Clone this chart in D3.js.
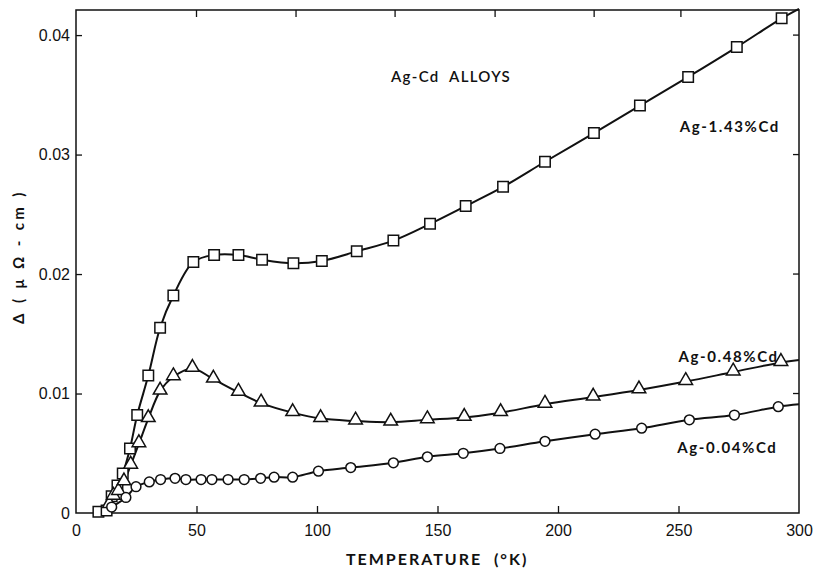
<!DOCTYPE html>
<html>
<head>
<meta charset="utf-8">
<script src="https://cdn.jsdelivr.net/npm/d3@7"></script>
<style>
  body { margin: 0; background: #fff; }
  svg { display: block; font-family: "Lato", "Open Sans", sans-serif; }
</style>
</head>
<body>
<div class="container"></div>
<script>
// temperatures (K) and resistivity deviations (micro-ohm cm)
let tSquare = [9.3, 12.7, 14.8, 17.2, 19.4, 22.4, 25.4, 30, 34.9, 40.4, 48.7, 57.3, 67.4, 77.2, 90.2,
    102, 116.5, 131.7, 146.9, 161.7, 177.2, 194.6, 214.9, 234, 254, 274.2, 292.8];
let dSquare = [0.0001, 0.0002, 0.0014, 0.0023, 0.0033, 0.0054, 0.0082, 0.0115, 0.0155, 0.0182, 0.0210, 0.0216, 0.0216, 0.0212, 0.0209,
    0.0211, 0.0219, 0.0228, 0.0242, 0.0257, 0.0273, 0.0294, 0.0318, 0.0341, 0.0365, 0.0390, 0.0414];

let tTriangle = [13.8, 15.5, 17.6, 19.9, 22.7, 26.1, 30, 34.9, 40.4, 48.3, 57, 67.4, 76.8, 89.9,
    101.5, 116, 130.6, 145.8, 161.1, 176.2, 194.6, 214.6, 233.6, 253, 272.7, 292.5];
let dTriangle = [0.0007, 0.0014, 0.0018, 0.0026, 0.0040, 0.0058, 0.0079, 0.0102, 0.0114, 0.0121, 0.0112, 0.0101, 0.0092, 0.0084,
    0.0079, 0.0077, 0.0076, 0.0078, 0.0080, 0.0084, 0.0091, 0.0097, 0.0103, 0.0110, 0.0118, 0.0126];

let tCircle = [14.8, 20.7, 24.9, 30.4, 35.1, 41.1, 45.6, 51.9, 56.4, 63.1, 69.8, 76.6, 82.2, 89.9,
    100.6, 114, 131.7, 145.8, 160.7, 175.9, 194.6, 215.4, 234.7, 254.5, 273.2, 291.4];
let dCircle = [0.0005, 0.0013, 0.0022, 0.0026, 0.0028, 0.0029, 0.0028, 0.0028, 0.0028, 0.0028, 0.0028, 0.0029, 0.0030, 0.0030,
    0.0035, 0.0038, 0.0042, 0.0047, 0.0050, 0.0054, 0.0060, 0.0066, 0.0071, 0.0078, 0.0082, 0.0089];

// where each drawn curve meets the right frame (T = 300)
let curveEnds = [0.0422, 0.0128, 0.0091];

let seriesNames = ["Ag-1.43%Cd", "Ag-0.48%Cd", "Ag-0.04%Cd"];
let xTicks = [0, 50, 100, 150, 200, 250, 300];
let yTicks = [0, 0.01, 0.02, 0.03, 0.04];
let yTickLabels = ["0", "0.01", "0.02", "0.03", "0.04"];
let topTicks = [50, 91.3, 132.4, 173.9, 215, 251];

let margin = { top: 10, right: 14, bottom: 58, left: 76 };
let width = 813 - margin.left - margin.right;
let height = 571 - margin.top - margin.bottom;

let svg = d3.select(".container")
    .append("svg")
    .attr("width", 813)
    .attr("height", 571)
    .append("g")
    .attr("transform", "translate(" + margin.left + "," + margin.top + ")");

let x = d3.scaleLinear().domain([0, 300]).range([0, width]);
let y = d3.scaleLinear().domain([0, 0.0421]).range([height, 0]);

// frame
svg.append("rect")
    .attr("width", width)
    .attr("height", height)
    .attr("fill", "none")
    .attr("stroke", "#111")
    .attr("stroke-width", 1.5);

// bottom axis, ticks pointing in
let xAxis = svg.append("g")
    .attr("transform", "translate(0," + height + ")")
    .call(d3.axisBottom(x).tickValues(xTicks).tickSizeInner(-7).tickSizeOuter(0).tickPadding(12));
xAxis.select(".domain").remove();
xAxis.selectAll(".tick line").attr("stroke", "#111").attr("stroke-width", 1.3);
xAxis.selectAll(".tick text").attr("font-size", 16).attr("fill", "#111");
xAxis.selectAll(".tick").filter(d => d == 0 || d == 300).select("line").remove();

// left axis
let yAxis = svg.append("g")
    .call(d3.axisLeft(y).tickValues(yTicks).tickFormat((d, i) => yTickLabels[i])
        .tickSizeInner(-6).tickSizeOuter(0).tickPadding(6));
yAxis.select(".domain").remove();
yAxis.selectAll(".tick line").attr("stroke", "#111").attr("stroke-width", 1.3);
yAxis.selectAll(".tick text").attr("font-size", 16).attr("fill", "#111");
yAxis.selectAll(".tick").filter(d => d == 0).select("line").remove();

// right axis ticks
svg.append("g")
    .selectAll("line")
    .data(yTicks.slice(1))
    .enter()
    .append("line")
    .attr("x1", width - 6)
    .attr("x2", width)
    .attr("y1", d => y(d))
    .attr("y2", d => y(d))
    .attr("stroke", "#111")
    .attr("stroke-width", 1.3);

// top axis ticks
svg.append("g")
    .selectAll("line")
    .data(topTicks)
    .enter()
    .append("line")
    .attr("x1", d => x(d))
    .attr("x2", d => x(d))
    .attr("y1", 0)
    .attr("y2", 7)
    .attr("stroke", "#111")
    .attr("stroke-width", 1.3);

let series = [
    { t: tSquare, d: dSquare, shape: "square" },
    { t: tTriangle, d: dTriangle, shape: "triangle" },
    { t: tCircle, d: dCircle, shape: "circle" }
];

let line = d3.line()
    .x(p => x(p[0]))
    .y(p => y(p[1]))
    .curve(d3.curveCatmullRom.alpha(0.5));

series.forEach((s, i) => {
    let pts = s.t.map((t, j) => [t, s.d[j]]);
    s.pts = pts;
    svg.append("path")
        .datum(pts.concat([[300, curveEnds[i]]]))
        .attr("d", line)
        .attr("fill", "none")
        .attr("stroke", "#111")
        .attr("stroke-width", 2);
});

let sym = {
    square: d3.symbol().type(d3.symbolSquare).size(110),
    triangle: d3.symbol().type(d3.symbolTriangle).size(80),
    circle: d3.symbol().type(d3.symbolCircle).size(75)
};

series.forEach(s => {
    svg.append("g")
        .selectAll("path")
        .data(s.pts)
        .enter()
        .append("path")
        .attr("d", sym[s.shape])
        .attr("transform", p => "translate(" + x(p[0]) + "," + (y(p[1]) + (s.shape == "triangle" ? -1 : 0)) + ")")
        .attr("fill", "#fff")
        .attr("stroke", "#111")
        .attr("stroke-width", 1.5);
});

// annotations
svg.append("text")
    .attr("x", x(130.7))
    .attr("y", 72)
    .attr("font-size", 15)
    .attr("font-weight", 600)
    .attr("letter-spacing", 1.3)
    .attr("fill", "#111")
    .attr("xml:space", "preserve")
    .text("Ag-Cd  ALLOYS");

let labelPos = [[250.5, 122], [250, 352], [249.5, 443]];
seriesNames.forEach((n, i) => {
    svg.append("text")
        .attr("x", x(labelPos[i][0]))
        .attr("y", labelPos[i][1])
        .attr("font-size", 15)
        .attr("font-weight", "bold")
        .attr("letter-spacing", 1.6)
        .attr("fill", "#111")
        .text(n);
});

// axis titles
svg.append("text")
    .attr("x", x(112))
    .attr("y", height + 52)
    .attr("font-size", 16)
    .attr("font-weight", "bold")
    .attr("letter-spacing", 2)
    .attr("fill", "#111")
    .attr("xml:space", "preserve")
    .text("TEMPERATURE  (°K)");

svg.append("text")
    .attr("transform", "translate(" + (-52) + "," + (314) + ") rotate(-90)")
    .attr("font-size", 15)
    .attr("font-weight", "bold")
    .attr("letter-spacing", 3.4)
    .attr("fill", "#111")
    .attr("xml:space", "preserve")
    .text("Δ ( μ Ω - cm )");
</script>
</body>
</html>
